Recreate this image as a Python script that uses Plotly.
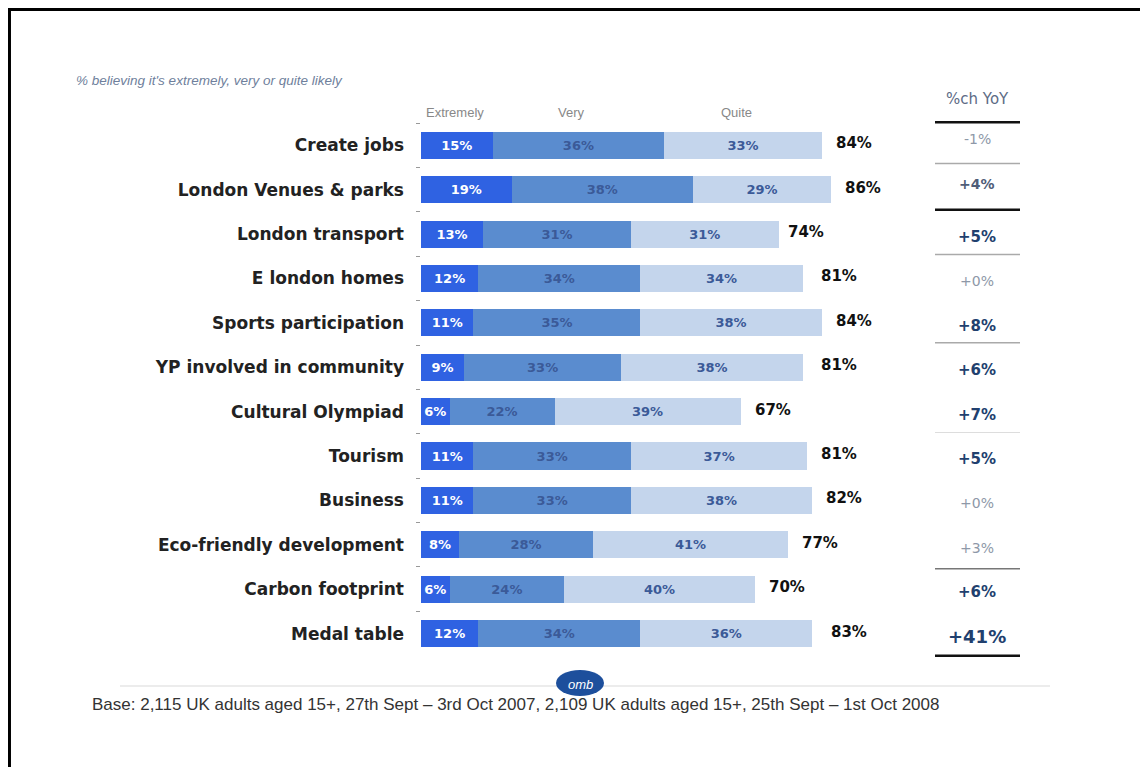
import plotly.graph_objects as go

# ---------------- data ----------------
categories = ["Create jobs", "London Venues & parks", "London transport", "E london homes",
              "Sports participation", "YP involved in community", "Cultural Olympiad",
              "Tourism", "Business", "Eco-friendly development", "Carbon footprint", "Medal table"]
extremely = [15, 19, 13, 12, 11, 9, 6, 11, 11, 8, 6, 12]
very = [36, 38, 31, 34, 35, 33, 22, 33, 33, 28, 24, 34]
quite = [33, 29, 31, 34, 38, 38, 39, 37, 38, 41, 40, 36]
totals = [84, 86, 74, 81, 84, 81, 67, 81, 82, 77, 70, 83]
yoy = ["-1%", "+4%", "+5%", "+0%", "+8%", "+6%", "+7%", "+5%", "+0%", "+3%", "+6%", "+41%"]
series_names = ["Extremely", "Very", "Quite"]

# ---------------- geometry helpers (window pixels -> paper) ----------------
# the page body has an 8px margin, so the figure starts at (8, 8) in the window
OFF = 8
W, H = 1140, 759
def px(x): return (x - OFF) / W
def py(y): return 1 - (y - OFF) / H

FONT = "DejaVu Sans, Liberation Sans, Arial, sans-serif"
C_EXT, C_VERY, C_QUITE = "#2f62e2", "#5a8ccf", "#c4d5ec"
IN_TXT = "#3b5a98"

fig = go.Figure()
for name, vals, col, tcol in [(series_names[0], extremely, C_EXT, "white"),
                              (series_names[1], very, C_VERY, IN_TXT),
                              (series_names[2], quite, C_QUITE, IN_TXT)]:
    fig.add_trace(go.Bar(
        y=categories, x=vals, orientation="h", name=name,
        marker=dict(color=col, line=dict(width=0)),
        text=[f"{v}%" for v in vals], textposition="inside",
        insidetextanchor="middle", constraintext="none",
        textfont=dict(family=FONT, size=13, color=tcol, weight="bold"),
        hoverinfo="skip", showlegend=False))

ann = []
# totals to the right of each bar
for c, t in zip(categories, totals):
    ann.append(dict(x=t, y=c, xref="x", yref="y", text=f"{t}%", showarrow=False,
                    xanchor="left", xshift=12, yshift=2,
                    font=dict(family=FONT, size=15, color="#111", weight="bold")))

# YoY column
yoy_style = ["light", "mid", "bold", "light", "bold", "bold", "bold", "bold", "light", "light", "bold", "big"]
for i, (c, v, s) in enumerate(zip(categories, yoy, yoy_style)):
    if s == "light":
        f = dict(family=FONT, size=14, color="#8e98a8")
    elif s == "mid":
        f = dict(family=FONT, size=14, color="#4f5d78", weight="bold")
    elif s == "bold":
        f = dict(family=FONT, size=15, color="#21406e", weight="bold")
    else:
        f = dict(family=FONT, size=18, color="#21406e", weight="bold")
    ann.append(dict(x=px(977), y=c, xref="paper", yref="y", text=v, showarrow=False,
                    xanchor="center", yshift=(6 if i < 2 else -3), font=f))

# header texts
ann.append(dict(x=px(977), y=py(99), xref="paper", yref="paper", text="%ch YoY", showarrow=False,
                xanchor="center", yanchor="middle",
                font=dict(family=FONT, size=15, color="#5d6b85")))
ann.append(dict(x=px(74), y=py(80), xref="paper", yref="paper",
                text="% believing it's extremely, very or quite likely", showarrow=False,
                xanchor="left", yanchor="middle",
                font=dict(family="Liberation Sans Narrow, Liberation Sans, Arial", size=13.5,
                          color="#6f7f9c", style="italic")))
for name, xp in zip(series_names, [424, 556, 719]):
    ann.append(dict(x=px(xp), y=py(112), xref="paper", yref="paper", text=name, showarrow=False,
                    xanchor="left", yanchor="middle",
                    font=dict(family="Liberation Sans, Arial", size=13, color="#888")))
# logo + footnote
ann.append(dict(x=px(580), y=py(683), xref="paper", yref="paper", text="<i>omb</i>", showarrow=False,
                xanchor="center", yanchor="middle", yshift=-1,
                font=dict(family="Liberation Sans, Arial", size=13, color="white")))
ann.append(dict(x=px(90), y=py(704), xref="paper", yref="paper",
                text="Base: 2,115 UK adults aged 15+, 27th Sept \u2013 3rd Oct 2007, 2,109 UK adults aged 15+, 25th Sept \u2013 1st Oct 2008",
                showarrow=False, xanchor="left", yanchor="middle",
                font=dict(family="Liberation Sans, Arial", size=17, color="#333")))

shapes = []
# frame
shapes.append(dict(type="line", xref="paper", yref="paper", x0=0.0013, x1=0.0013, y0=0, y1=1,
                   line=dict(color="black", width=3)))
shapes.append(dict(type="line", xref="paper", yref="paper", x0=px(1143), x1=px(1143), y0=0, y1=1,
                   line=dict(color="black", width=3)))
shapes.append(dict(type="line", xref="paper", yref="paper", x0=0, x1=px(1143), y0=py(9.5), y1=py(9.5),
                   line=dict(color="black", width=3)))
# YoY column rules (positions between rows)
rules = [(-0.52, "#111", 2.5), (0.41, "#aaa", 1.5), (1.45, "#111", 2.5), (2.46, "#aaa", 1.5),
         (4.45, "#aaa", 1.5), (6.47, "#ddd", 1), (9.54, "#777", 1.5), (11.5, "#111", 2.5)]
for yv, col, w in rules:
    shapes.append(dict(type="line", xref="paper", yref="y", x0=px(935), x1=px(1020), y0=yv, y1=yv,
                       line=dict(color=col, width=w)))
# faint base rule and logo
shapes.append(dict(type="line", xref="paper", yref="paper", x0=px(120), x1=px(1050), y0=py(686), y1=py(686),
                   line=dict(color="#ececec", width=2)))
shapes.append(dict(type="circle", xref="paper", yref="paper", x0=px(556), x1=px(604), y0=py(696), y1=py(670),
                   fillcolor="#1d4f9c", line=dict(width=0)))

fig.update_layout(
    width=W, height=H, margin=dict(l=0, r=0, t=0, b=0),
    paper_bgcolor="white", plot_bgcolor="white",
    barmode="stack", bargap=0.39,
    xaxis=dict(domain=[px(421), px(898)], range=[0, 100], visible=False),
    yaxis=dict(domain=[py(657), py(121)], autorange="reversed", type="category",
               tickson="boundaries", ticks="outside", ticklen=4, tickcolor="#999",
               ticklabelstandoff=16, showline=False, showgrid=False,
               tickfont=dict(family=FONT, size=17, color="#222", weight="bold")),
    annotations=ann, shapes=shapes,
)
fig.write_html("out.html")
